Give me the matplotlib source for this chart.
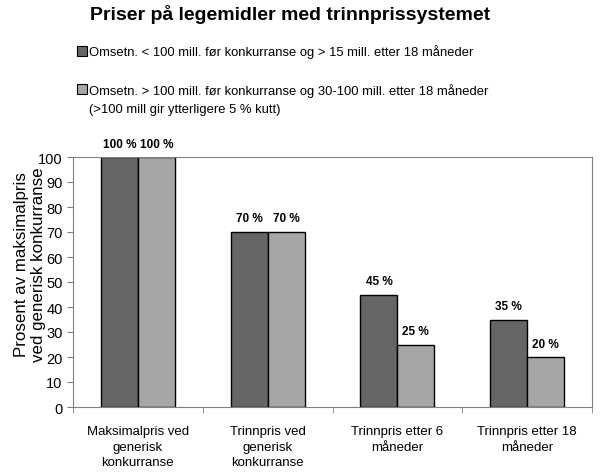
import numpy as np
import matplotlib.pyplot as plt
from matplotlib.patches import Rectangle

plt.rcParams['font.family'] = ['Liberation Sans', 'DejaVu Sans']

kategorier = ["Maksimalpris ved\ngenerisk\nkonkurranse", "Trinnpris ved\ngenerisk\nkonkurranse",
              "Trinnpris etter 6\nmåneder", "Trinnpris etter 18\nmåneder"]
serie1 = [100, 70, 45, 35]
serie2 = [100, 70, 25, 20]
navn1 = "Omsetn. < 100 mill. før konkurranse og > 15 mill. etter 18 måneder"
navn2 = "Omsetn. > 100 mill. før konkurranse og 30-100 mill. etter 18 måneder\n(>100 mill gir ytterligere 5 % kutt)"

farge1 = "#666666"
farge2 = "#a6a6a6"

fig = plt.figure(figsize=(6, 4.77), dpi=100)
ax = fig.add_axes([73/600, 1-408/477, 519/600, 250/477])

x = np.arange(len(kategorier))
b = 0.285
ax.bar(x - b/2, serie1, b, color=farge1, edgecolor="black", linewidth=1)
ax.bar(x + b/2, serie2, b, color=farge2, edgecolor="black", linewidth=1)

for i in range(len(x)):
    ax.text(x[i] - b/2, serie1[i] + 3, f"{serie1[i]} %", ha="center", va="bottom",
            fontsize=8.5, fontweight="bold")
    ax.text(x[i] + b/2, serie2[i] + 3, f"{serie2[i]} %", ha="center", va="bottom",
            fontsize=8.5, fontweight="bold")

ax.set_xlim(-0.5, 3.5)
ax.set_ylim(0, 100)
ax.set_yticks(range(0, 101, 10))
ax.tick_params(axis="y", labelsize=10.5, length=4, color="#808080")
ax.set_xticks(x)
ax.set_xticklabels(kategorier, fontsize=9.5, linespacing=1.4)
ax.tick_params(axis="x", length=0, pad=13)
ax.set_xticks(np.arange(-0.5, 4, 1), minor=True)
ax.tick_params(axis="x", which="minor", length=4, color="#808080")
for s in ax.spines.values():
    s.set_color("#808080")
ax.set_ylabel("Prosent av maksimalpris\nved generisk konkurranse", fontsize=12.2,
              linespacing=1.15)
ax.yaxis.set_label_coords(-0.052, 0.575)

fig.text(0.483, 1-14/477, "Priser på legemidler med trinnprissystemet", ha="center", va="center",
         fontsize=14, fontweight="bold")

fig.patches.append(Rectangle((77/600, 1-57/477), 10/600, 10/477, transform=fig.transFigure,
                             facecolor=farge1, edgecolor="black", linewidth=0.8))
fig.text(89/600, 1-52/477, navn1, ha="left", va="center", fontsize=9.4)
fig.patches.append(Rectangle((77/600, 1-95/477), 10/600, 10/477, transform=fig.transFigure,
                             facecolor=farge2, edgecolor="black", linewidth=0.8))
fig.text(89/600, 1-84/477, navn2, ha="left", va="top", fontsize=9.4, linespacing=1.65)

fig.savefig("out.png")
